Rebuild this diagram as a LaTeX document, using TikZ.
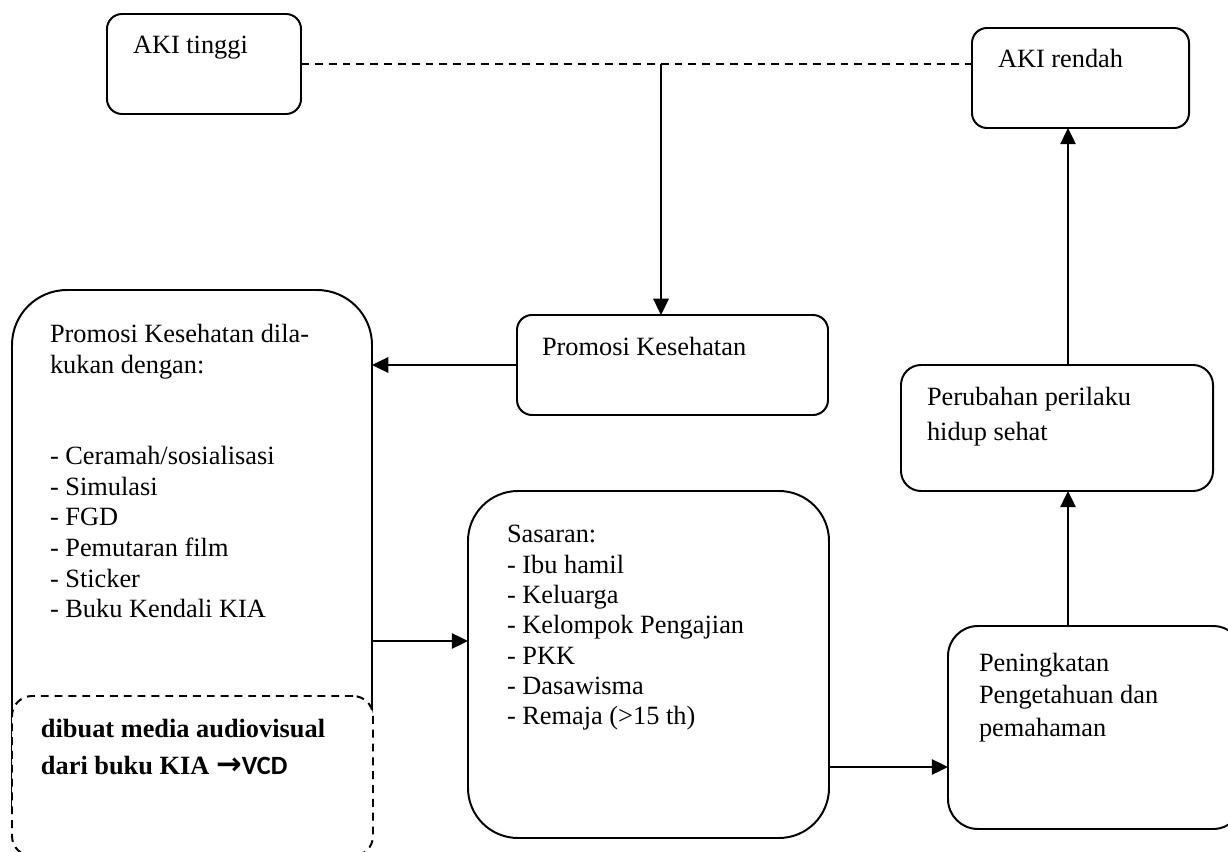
\documentclass[tikz,border=0pt]{standalone}
\usepackage{fontspec}
\setmainfont{Liberation Serif}
\newfontfamily\calibfont{Carlito}
\newfontfamily\arrowfont{DejaVu Sans}
\usepackage{tikz}
\usetikzlibrary{positioning}
\usetikzlibrary{arrows.meta}
\newdimen\pxu
\pxu=0.016cm
\tikzset{
  box/.style={draw, line width=0.9pt, inner sep=0pt, outer sep=0pt, rounded corners=15\pxu},
  dbox/.style={box, dash pattern=on 3.6pt off 2.7pt, fill=white, rounded corners=20\pxu},
  txt/.style={inner sep=0pt, outer sep=0pt, align=left, font=\fontsize{12pt}{13.9pt}\selectfont},
  arr/.style={-{Triangle[length=7.4pt,width=7pt]}, line width=0.9pt},
  dline/.style={line width=0.9pt, dash pattern=on 3.6pt off 2.7pt}
}

\begin{document}
\begin{tikzpicture}[x=0.016cm, y=-0.016cm]
            \useasboundingbox (0,0) rectangle (1228,852);
            % Top row
            \node[box, minimum width=194\pxu, minimum height=100\pxu] (akit) at (204,64) {};
            \node[txt, anchor=base west] (akittxt) at (133,54) {AKI tinggi};
            \node[box, minimum width=217\pxu, minimum height=100\pxu] (akir) at (1080.5,78) {};
            \node[txt, anchor=base west] (akirtxt) at (998,68) {AKI rendah};
            \coordinate (jn) at (661,64);
            \draw[dline] (akit.east) -- (akit.east -| akir.west);
            % Middle
            \node[box, minimum width=311\pxu, minimum height=100\pxu] (promo) at (672.5,365) {};
            \node[txt, anchor=base west] (promotxt) at (542,356) {Promosi Kesehatan};
            \node[box, rounded corners=20\pxu, minimum width=312\pxu, minimum height=126\pxu] (perub) at (1057,428) {};
            \node[txt, anchor=north west, font=\fontsize{12pt}{15.9pt}\selectfont] (perubtxt) at (927,381.5)
                {\strut Perubahan perilaku\\hidup sehat};
            % Left column
            \node[box, rounded corners=55\pxu, minimum width=360\pxu, minimum height=570\pxu] (metode) at (192,575) {};
            \node[txt, anchor=north west] (metodetxt) at (50,321.5)
                {\strut Promosi Kesehatan dila-\\kukan dengan:\\[27.8pt]
                 - Ceramah/sosialisasi\\- Simulasi\\- FGD\\- Pemutaran film\\- Sticker\\- Buku Kendali KIA};
            \node[dbox, minimum width=361\pxu, minimum height=160\pxu] (vcd) at (192.5,776) {};
            \node[txt, anchor=north west, font=\fontsize{12pt}{16.8pt}\selectfont\bfseries] (vcdtxt) at (41,712)
                {\strut dibuat media audiovisual\\dari buku KIA {\arrowfont\fontsize{14pt}{16.8pt}\selectfont →}{\calibfont VCD}};
            % Bottom row
            \node[box, rounded corners=50\pxu, minimum width=361\pxu, minimum height=347\pxu] (sasaran) at (648.5,664.5) {};
            \node[txt, anchor=north west, font=\fontsize{12pt}{13.8pt}\selectfont] (sasarantxt) at (507,521.7)
                {\strut Sasaran:\\- Ibu hamil\\- Keluarga\\- Kelompok Pengajian\\- PKK\\- Dasawisma\\- Remaja (>15 th)};
            \node[box, rounded corners=30\pxu, minimum width=295\pxu, minimum height=203\pxu] (naik) at (1095.5,727.5) {};
            \node[txt, anchor=north west, font=\fontsize{12pt}{15pt}\selectfont] (naiktxt) at (979,648)
                {\strut Peningkatan\\Pengetahuan dan\\pemahaman};
            % Connectors
            \draw[arr] (jn) -- (jn |- promo.north);
            \draw[arr] (promo.west) -- (promo.west -| metode.east);
            \draw[arr] (metode.east |- 0,641) -- (sasaran.west |- 0,641);
            \draw[arr] (sasaran.east |- 0,767) -- (naik.west |- 0,767);
            \draw[arr] (naik.north -| 1068,0) -- (perub.south -| 1068,0);
            \draw[arr] (perub.north -| 1068,0) -- (akir.south -| 1068,0);
        \end{tikzpicture}
\end{document}
